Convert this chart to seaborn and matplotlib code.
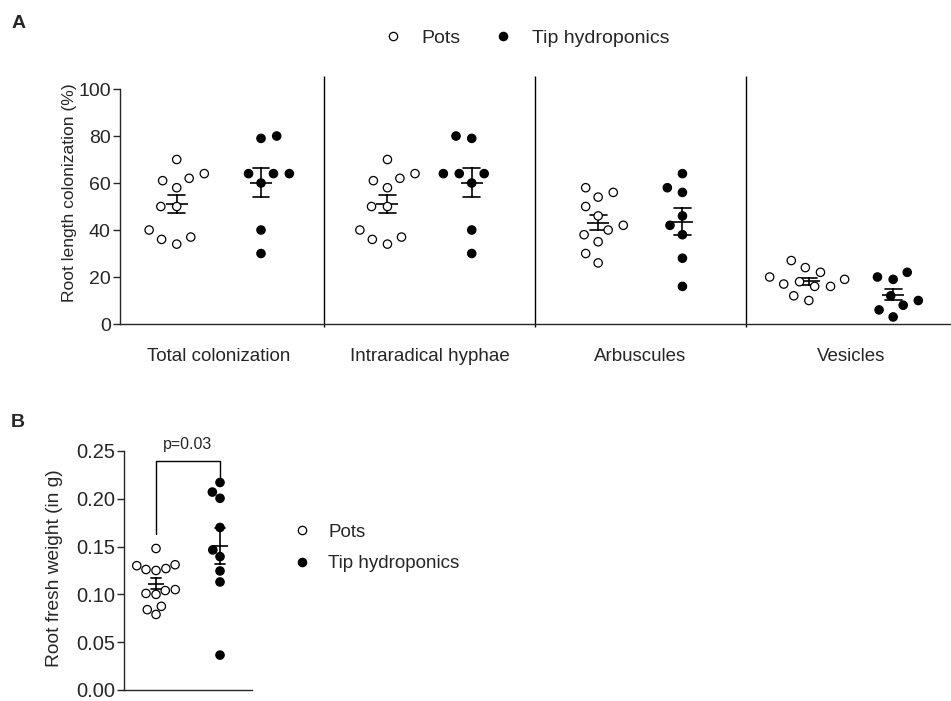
import numpy as np
import pandas as pd
import seaborn as sns
import matplotlib.pyplot as plt
from matplotlib.lines import Line2D

# ---------------------------------------------------- data ----------------------------------------------------
categories = ['Total colonization', 'Intraradical hyphae', 'Arbuscules', 'Vesicles']
groups = ['Pots', 'Tip hydroponics']

total_pots = [61, 70, 62, 64, 58, 50, 50, 40, 34, 37, 36]
total_tip = [80, 79, 64, 64, 64, 60, 40, 30]
hyphae_pots = [61, 70, 62, 64, 58, 50, 50, 40, 34, 37, 36]
hyphae_tip = [80, 79, 64, 64, 64, 60, 40, 30]
arbuscules_pots = [54, 58, 56, 50, 46, 42, 40, 38, 35, 30, 26]
arbuscules_tip = [64, 58, 56, 46, 42, 38, 28, 16]
vesicles_pots = [27, 24, 22, 19, 20, 18, 17, 16, 16, 12, 10]
vesicles_tip = [22, 19, 20, 10, 12, 8, 6, 3]

weight_pots = [0.148, 0.131, 0.125, 0.126, 0.127, 0.130, 0.101, 0.104, 0.100, 0.105, 0.0875, 0.084, 0.079]
weight_tip = [0.217, 0.207, 0.2005, 0.170, 0.1465, 0.1395, 0.1245, 0.113, 0.0365]

p_label = 'p=0.03'

# ---------------------------------------------------- build long tables ----------------------------------------------------
colon = {
    'Total colonization': (total_pots, total_tip),
    'Intraradical hyphae': (hyphae_pots, hyphae_tip),
    'Arbuscules': (arbuscules_pots, arbuscules_tip),
    'Vesicles': (vesicles_pots, vesicles_tip),
}
rows = []
for cat in categories:
    for grp, vals in zip(groups, colon[cat]):
        rows += [{'category': cat, 'group': grp, 'value': v} for v in vals]
df_a = pd.DataFrame(rows)

df_b = pd.DataFrame({
    'group': ['Pots'] * len(weight_pots) + ['Tip hydroponics'] * len(weight_tip),
    'weight': weight_pots + weight_tip,
})

# ---------------------------------------------------- style ----------------------------------------------------
sns.set_style('ticks')
plt.rcParams['font.family'] = ['Liberation Sans', 'DejaVu Sans']
plt.rcParams['axes.linewidth'] = 1.0

fill = {'Pots': 'white', 'Tip hydroponics': 'black'}
black = {'Pots': 'black', 'Tip hydroponics': 'black'}
dot_size = 6.0      # drawn marker size
spread_size = 10.0  # marker size used only to lay out the swarm (wider, like the original)

fig = plt.figure(figsize=(9.51, 7.01), dpi=100)

# ---------------------------------------------------- panel A ----------------------------------------------------
ax = fig.add_axes([0.126, 0.5378, 0.873, 0.3352])
sns.swarmplot(data=df_a, x='category', y='value', hue='group', order=categories, hue_order=groups,
              palette=fill, dodge=True, size=spread_size, edgecolor='black', linewidth=0.9,
              legend=False, ax=ax)
swarm_cols = list(ax.collections)
sns.pointplot(data=df_a, x='category', y='value', hue='group', order=categories, hue_order=groups,
              palette=black, dodge=0.4, errorbar='se', capsize=0.08, linestyles='none', markers='_',
              markersize=16, markeredgewidth=1.2, linewidth=1.2, legend=False, ax=ax)
ax.set_ylim(0, 100)
ax.set_xlim(-0.47, 3.47)
ax.set_yticks(range(0, 101, 20))
ax.vlines([0.5, 1.5, 2.5], -1.3, 105.5, color='black', linewidth=1, clip_on=False)
ax.tick_params(axis='y', length=5, width=1, pad=1.5, labelsize=14)
ax.tick_params(axis='x', length=0, pad=17, labelsize=13.5)
ax.set_xlabel('')
ax.set_ylabel('Root length colonization (%)', fontsize=12.6)
ax.yaxis.set_label_coords(-0.0517, 0.557)
sns.despine(ax=ax)

handles = [Line2D([], [], marker='o', linestyle='none', markerfacecolor=fill[g], markeredgecolor='black',
                  markersize=6.0, markeredgewidth=0.9) for g in groups]
fig.legend(handles, groups, loc='center', bbox_to_anchor=(0.548, 0.946), ncol=2, frameon=False,
           fontsize=14, handletextpad=0.49, columnspacing=1.15)

# ---------------------------------------------------- panel B ----------------------------------------------------
bx = fig.add_axes([0.1304, 0.0157, 0.1346, 0.341])
sns.swarmplot(data=df_b, x='group', y='weight', hue='group', order=groups, hue_order=groups,
              palette=fill, size=dot_size, edgecolor='black', linewidth=0.9, legend=False, ax=bx)
sns.pointplot(data=df_b, x='group', y='weight', hue='group', order=groups, hue_order=groups,
              palette=black, errorbar='se', capsize=0.16, linestyles='none', markers='_',
              markersize=11.5, markeredgewidth=1.2, linewidth=1.2, legend=False, ax=bx)
bx.set_ylim(0, 0.25)
bx.set_xlim(-0.5, 1.5)
bx.set_yticks(np.arange(0, 0.251, 0.05))
bx.set_yticklabels([f'{t:.2f}' for t in np.arange(0, 0.251, 0.05)])
bx.tick_params(axis='y', length=5, width=1, pad=1.5, labelsize=14.5)
bx.tick_params(axis='x', length=0, labelbottom=False)
bx.set_xlabel('')
bx.set_ylabel('Root fresh weight (in g)', fontsize=13.8)
bx.yaxis.set_label_coords(-0.477, 0.51)
sns.despine(ax=bx)

# significance bracket
bx.plot([0, 0, 1, 1], [0.1634, 0.2395, 0.2395, 0.221], color='black', linewidth=1, clip_on=False)
bx.text(0.5, 0.2568, p_label, ha='center', va='center', fontsize=11.5)

fig.legend(handles, groups, loc='center left', bbox_to_anchor=(0.2802, 0.2185), frameon=False,
           fontsize=13.5, handletextpad=0.39, labelspacing=0.77)

# panel letters
fig.text(0.0116, 0.966, 'A', fontsize=14, fontweight='bold', va='center')
fig.text(0.0116, 0.397, 'B', fontsize=14, fontweight='bold', va='center')

# lay the swarm out with the wide spacing, then keep those positions and shrink the dots
fig.canvas.draw()
for coll in swarm_cols:
    coll.__dict__.pop('draw', None)
    coll.set_sizes([dot_size ** 2])

fig.savefig('out.png', dpi=100)
